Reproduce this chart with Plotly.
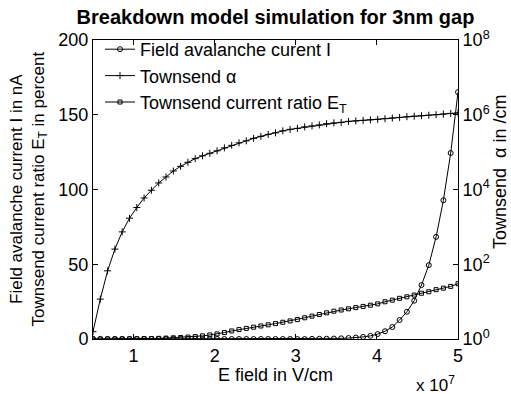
import plotly.graph_objects as go

# E field in units of 1e7 V/cm
e_field_1e7 = [0.50, 0.59, 0.68, 0.77, 0.86, 0.95, 1.04, 1.13, 1.22, 1.31,
               1.40, 1.49, 1.58, 1.67, 1.76, 1.85, 1.94, 2.03, 2.12, 2.21,
               2.30, 2.39, 2.48, 2.57, 2.66, 2.75, 2.84, 2.93, 3.02, 3.11,
               3.20, 3.29, 3.38, 3.47, 3.56, 3.65, 3.74, 3.83, 3.92, 4.01,
               4.10, 4.19, 4.28, 4.37, 4.46, 4.55, 4.64, 4.73, 4.82, 4.91,
               5.00]

# Field avalanche current I in nA (left axis)
current_nA = [0, 0, 0, 0, 0, 0, 0, 0, 0, 0,
              0, 0, 0, 0, 0, 0, 0, 0, 0, 0,
              0, 0, 0, 0, 0, 0, 0, 0, 0, 0,
              0.1, 0.15, 0.2, 0.3, 0.45, 0.65, 0.95, 1.4, 2.1, 3.3,
              5.2, 8.0, 12.7, 18.2, 25.6, 36.1, 49.4, 68.3, 92.8, 124.4,
              165.1]

# Townsend alpha in /cm (right, log axis)
townsend_alpha = [1.57, 11.7, 66.7, 254, 734, 1706, 3296, 5943, 9550, 14960,
                  21630, 31260, 41780, 53460, 67000, 79600, 92900, 108400, 130300, 152000,
                  177000, 200400, 233800, 264300, 298700, 327500, 370400, 406100, 432300, 474200,
                  503700, 535800, 576800, 606300, 625200, 665200, 685600, 706700, 729400, 751600,
                  785200, 814700, 849200, 887100, 915600, 944100, 972900, 1004600, 1042000, 1086000,
                  1122000]

# Townsend current ratio E_T in percent (left axis)
ratio_pct = [0, 0, 0, 0, 0.05, 0.1, 0.15, 0.2, 0.3, 0.45,
             0.6, 0.8, 1.0, 1.3, 1.6, 2.1, 2.7, 3.4, 4.3, 5.4,
             6.3, 7.1, 7.9, 8.7, 9.5, 10.3, 11.2, 12.1, 13.0, 14.2,
             15.3, 16.4, 17.5, 18.6, 19.4, 20.2, 21.0, 21.8, 22.6, 23.5,
             24.9, 26.0, 27.2, 28.2, 29.4, 30.6, 31.6, 33.0, 34.0, 35.2,
             37.0]

x_ticks = [1, 2, 3, 4, 5]
x_ticktext = ["1", "2", "3", "4", "5"]
left_ticks = [0, 50, 100, 150, 200]
right_ticks = [1, 1e2, 1e4, 1e6, 1e8]
right_ticktext = ["10<sup>0</sup>", "10<sup>2</sup>", "10<sup>4</sup>", "10<sup>6</sup>", "10<sup>8</sup>"]

FONT = "Liberation Sans, Arial, sans-serif"
INK = "#000000"

fig = go.Figure()
fig.add_trace(go.Scatter(
    x=e_field_1e7, y=current_nA, name="Field avalanche curent I",
    mode="lines+markers", yaxis="y",
    line=dict(color=INK, width=1),
    marker=dict(symbol="circle-open", size=5, color=INK, line=dict(width=1, color=INK)),
))
fig.add_trace(go.Scatter(
    x=e_field_1e7, y=townsend_alpha, name="Townsend α",
    mode="lines+markers", yaxis="y2",
    line=dict(color=INK, width=1),
    marker=dict(symbol="cross-thin-open", size=5, color=INK, line=dict(width=1, color=INK)),
))
fig.add_trace(go.Scatter(
    x=e_field_1e7, y=ratio_pct, name="Townsend current ratio E<sub>T</sub>",
    mode="lines+markers", yaxis="y",
    line=dict(color=INK, width=1),
    marker=dict(symbol="square-open", size=4, color=INK, line=dict(width=1, color=INK)),
))

fig.update_layout(
    width=511, height=394,
    margin=dict(l=93, r=53, t=40, b=55),
    paper_bgcolor="white", plot_bgcolor="white",
    font=dict(family=FONT, size=18, color=INK),
    title=dict(text="<b>Breakdown model simulation for 3nm gap</b>",
               x=0.5, xref="paper", xanchor="center",
               y=1 - 17 / 394, yref="container", yanchor="middle",
               font=dict(family=FONT, size=20, color=INK)),
    showlegend=True,
    legend=dict(x=7 / 365, y=1.0 + 9 / 299, xanchor="left", yanchor="top",
                bgcolor="rgba(0,0,0,0)", borderwidth=0, tracegroupgap=0,
                font=dict(family=FONT, size=18, color=INK)),
    xaxis=dict(range=[0.5, 5.0], tickvals=x_ticks, ticktext=x_ticktext,
               showgrid=False, zeroline=False, showline=True, linecolor=INK, linewidth=1,
               mirror="ticks", ticks="inside", ticklen=5, tickcolor=INK,
               tickfont=dict(size=18)),
    yaxis=dict(range=[0, 200], tickvals=left_ticks,
               showgrid=False, zeroline=False, showline=True, linecolor=INK, linewidth=1,
               ticks="inside", ticklen=5, tickcolor=INK, tickfont=dict(size=18)),
    yaxis2=dict(type="log", range=[0, 8], tickvals=right_ticks, ticktext=right_ticktext,
                overlaying="y", side="right",
                showgrid=False, zeroline=False, showline=True, linecolor=INK, linewidth=1,
                ticks="inside", ticklen=5, tickcolor=INK, tickfont=dict(size=18)),
    annotations=[
        dict(text="Field avalanche current I in nA<br>Townsend current ratio E<sub>T</sub> in percent",
             xref="paper", yref="paper", x=(28 - 93) / 365, y=0.5,
             xanchor="center", yanchor="middle", textangle=-90, showarrow=False,
             font=dict(family=FONT, size=17, color=INK)),
        dict(text="Townsend  α in /cm",
             xref="paper", yref="paper", x=(500 - 93) / 365, y=(339 - 172) / 299,
             xanchor="center", yanchor="middle", textangle=-90, showarrow=False,
             font=dict(family=FONT, size=18, color=INK)),
        dict(text="E field in V/cm",
             xref="paper", yref="paper", x=0.5, y=(339 - 375) / 299,
             xanchor="center", yanchor="middle", showarrow=False,
             font=dict(family=FONT, size=18, color=INK)),
        dict(text="x 10<sup>7</sup>",
             xref="paper", yref="paper", x=(435 - 93) / 365, y=(339 - 384) / 299,
             xanchor="center", yanchor="middle", showarrow=False,
             font=dict(family=FONT, size=17, color=INK)),
    ],
)

fig.write_html("out.html")
